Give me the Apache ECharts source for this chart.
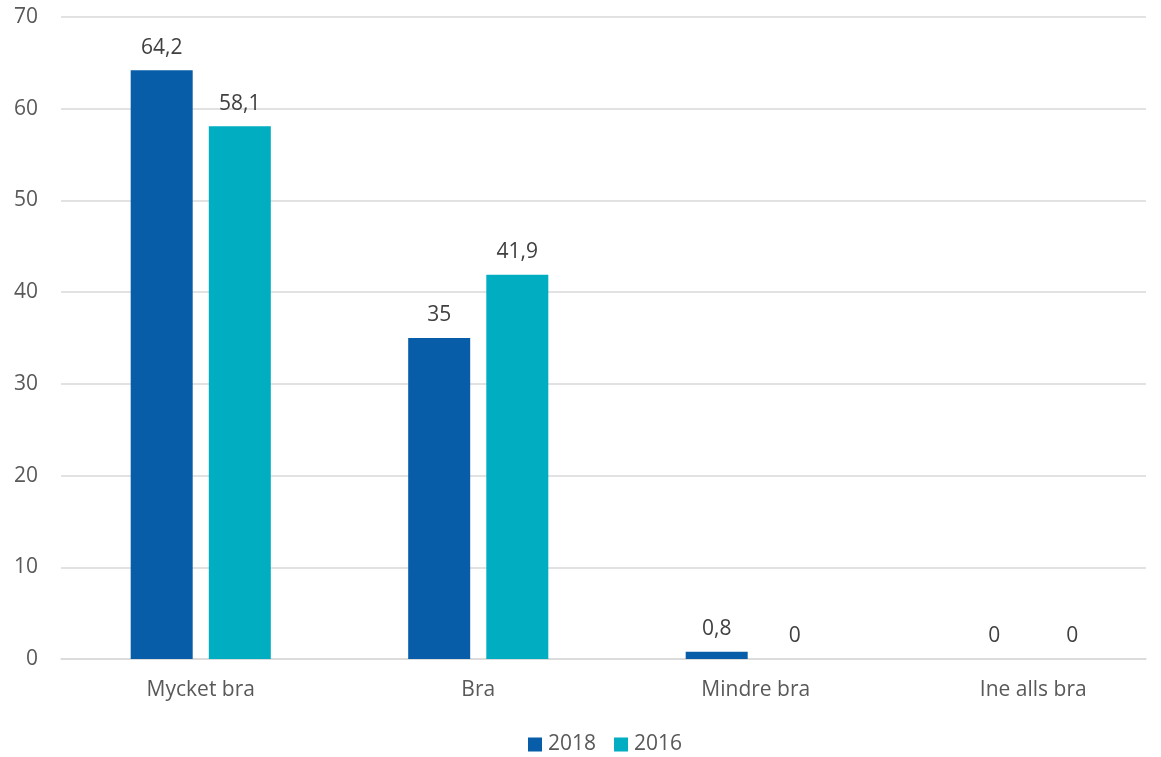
<!DOCTYPE html>
<html><head><meta charset="utf-8">
<script src="https://cdn.jsdelivr.net/npm/echarts@6/dist/echarts.min.js"></script>
<style>html,body{margin:0;padding:0;background:#fff}#c{width:1161px;height:757px}</style>
</head><body><div id="c"></div>
<script>
const categories = ['Mycket bra', 'Bra', 'Mindre bra', 'Ine alls bra'];
const values2018 = [64.2, 35, 0.8, 0];
const values2016 = [58.1, 41.9, 0, 0];
const seriesNames = ['2018', '2016'];
const yTicks = {min: 0, max: 70, interval: 10};

const font = '"Open Sans", "Liberation Sans", sans-serif';
const fs = 21;
const fmt = p => String(p.value).replace('.', ',');
const chart = echarts.init(document.getElementById('c'));
chart.setOption({
  animation: false,
  textStyle: {fontFamily: font},
  grid: [
    {left: 61, right: 15, top: 17, bottom: 98, outerBoundsMode: 'none', containLabel: false},
    {left: 62, width: 1110, top: 17, bottom: 98, outerBoundsMode: 'none', containLabel: false}
  ],
  legend: {
    top: 729, left: 523, itemWidth: 14, itemHeight: 14, itemGap: 18,
    icon: 'rect',
    textStyle: {fontSize: fs, color: '#595959', fontFamily: font, padding: [0, 0, 0, 1]}
  },
  xAxis: [
    {type: 'category', gridIndex: 0, data: categories,
     axisLine: {lineStyle: {color: '#d9d9d9', width: 1.5}},
     axisTick: {show: false}, axisLabel: {show: false}},
    {type: 'category', gridIndex: 1, data: categories,
     axisLine: {show: false}, axisTick: {show: false},
     axisLabel: {fontSize: fs, color: '#595959', margin: 21, fontFamily: font}}
  ],
  yAxis: [
    {type: 'value', gridIndex: 0, min: yTicks.min, max: yTicks.max, interval: yTicks.interval,
     axisLine: {show: false}, axisTick: {show: false},
     splitLine: {lineStyle: {color: '#d9d9d9', width: 1.5}},
     axisLabel: {fontSize: fs, color: '#595959', margin: 23, fontFamily: font}},
    {type: 'value', gridIndex: 1, min: yTicks.min, max: yTicks.max, interval: yTicks.interval,
     axisLine: {show: false}, axisTick: {show: false}, splitLine: {show: false},
     axisLabel: {show: false}}
  ],
  series: [
    {name: seriesNames[0], type: 'bar', xAxisIndex: 1, yAxisIndex: 1, data: values2018,
     barWidth: 62, barGap: '26%',
     itemStyle: {color: '#075DA7'},
     label: {show: true, position: 'top', distance: 12, fontSize: fs, color: '#404040', formatter: fmt, fontFamily: font}},
    {name: seriesNames[1], type: 'bar', xAxisIndex: 1, yAxisIndex: 1, data: values2016,
     barWidth: 62,
     itemStyle: {color: '#00ADC1'},
     label: {show: true, position: 'top', distance: 12, fontSize: fs, color: '#404040', formatter: fmt, fontFamily: font}}
  ]
});
</script></body></html>
